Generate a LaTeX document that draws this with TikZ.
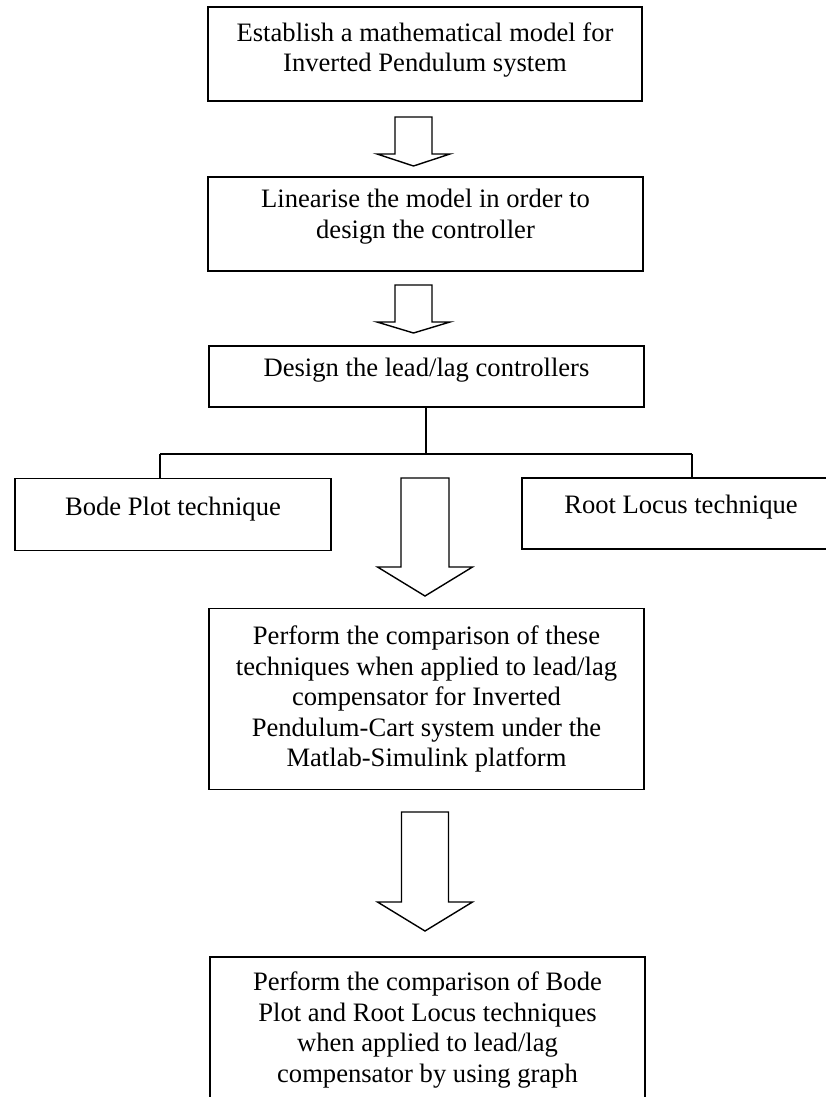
\documentclass[tikz,border=0pt]{standalone}
\usepackage{fontspec}
\setmainfont{Liberation Serif}
\usetikzlibrary{calc}

\begin{document}
\begin{tikzpicture}[x=1pt,y=-1pt]
    \newcommand{\hollowarrow}[6]{\draw[harrow] (#1-#5,#2) -- (#1-#5,#3) -- (#1-#6,#3) -- (#1,#4) -- (#1+#6,#3) -- (#1+#5,#3) -- (#1+#5,#2) -- cycle;}

    \tikzstyle{edge} = [line width=1.4pt,draw=black]
    \tikzstyle{harrow} = [line width=1.4pt,draw=black,line join=miter]
    \tikzstyle{sbox}=[
      rectangle,
      draw=black,
      line width=1.6pt,
      align=center,
      font=\fontsize{26.6}{30.5}\selectfont,
      inner sep=0pt,
    ]

    \useasboundingbox (0,0) rectangle (826,1097);
    \clip (0,0) rectangle (826,1097);

    {
      \node[sbox,minimum width=434,minimum height=94,text depth=14pt] (model) at (425,54) {Establish a mathematical model for\\Inverted Pendulum system};
      \node[sbox,minimum width=435,minimum height=94,text depth=20pt] (linear) at (425.5,224) {Linearise the model in order to\\design the controller};
      \node[sbox,minimum width=435,minimum height=61,text depth=18pt] (design) at (426.5,376.5) {Design the lead/lag controllers};

      \node[sbox,minimum width=316,minimum height=72,text depth=16pt] (bode) at (173,514.5) {Bode Plot technique};
      \node[sbox,minimum width=318,minimum height=71,text depth=18pt] (rlocus) at (681,513.5) {Root Locus technique};

      \node[sbox,minimum width=435,minimum height=181] (compare) at (426.5,699) {Perform the comparison of these\\techniques when applied to lead/lag\\compensator for Inverted\\Pendulum-Cart system under the\\Matlab-Simulink platform};
      \node[sbox,anchor=north,minimum width=435,minimum height=146] (graph) at (427.5,956) {Perform the comparison of Bode\\Plot and Root Locus techniques\\when applied to lead/lag\\compensator by using graph};
    }

    {
      \coordinate (split) at (426,454);
      \coordinate (bl) at (160,454);
      \coordinate (br) at (692,454);

      \draw[edge] (design.south -| split)--(split);
      \draw[edge] (bl)--(br);
      \draw[edge] (bl)--(bl |- bode.north);
      \draw[edge] (br)--(br |- rlocus.north);
    }

    {
      \hollowarrow{413.5}{117}{154}{166}{18.5}{36.5}
      \hollowarrow{413.5}{285}{322}{333}{18.5}{36.5}
      \hollowarrow{425}{478}{567}{596}{24}{47.5}
      \hollowarrow{425}{812}{902}{931}{23.5}{47.5}
    }
\end{tikzpicture}
\end{document}
